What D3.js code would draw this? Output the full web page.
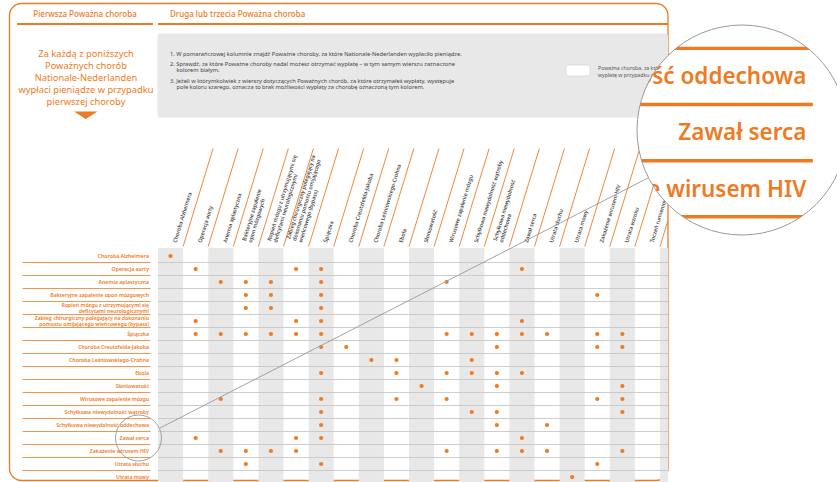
<!DOCTYPE html>
<html>
<head>
<meta charset="utf-8">
<script src="https://cdn.jsdelivr.net/npm/d3@7"></script>
<style>
  body { margin: 0; background: #fff; }
  svg { display: block; font-family: "Noto Sans", sans-serif; }
</style>
</head>
<body>
<svg id="chart" width="837" height="482"></svg>
<script>
// ===== data =====
const columns = [
  'Choroba Alzheimera',
  'Operacja aorty',
  'Anemia aplastyczna',
  'Bakteryjne zapalenie|opon mózgowych',
  'Ropień mózgu z utrzymującymi się|deficytami neurologicznymi',
  'Zabieg chirurgiczny polegający na|dokonaniu pomostu omijającego|wieńcowego (bypass)',
  'Śpiączka',
  'Choroba Creutzfelda-Jakoba',
  'Choroba Leśniowskiego-Crohna',
  'Ebola',
  'Słoniowatość',
  'Wirusowe zapalenie mózgu',
  'Schyłkowa niewydolność wątroby',
  'Schyłkowa niewydolność|oddechowa',
  'Zawał serca',
  'Utrata słuchu',
  'Utrata mowy',
  'Zakażenie wirusem HIV',
  'Utrata wzroku',
  'Toczeń rumieniowaty układowy',
  ''
]

const rows = [
  'Choroba Alzheimera',
  'Operacja aorty',
  'Anemia aplastyczna',
  'Bakteryjne zapalenie opon mózgowych',
  'Ropień mózgu z utrzymującymi się|deficytami neurologicznymi',
  'Zabieg chirurgiczny polegający na dokonaniu|pomostu omijającego wieńcowego (bypass)',
  'Śpiączka',
  'Choroba Creutzfelda-Jakoba',
  'Choroba Leśniowskiego-Crohna',
  'Ebola',
  'Słoniowatość',
  'Wirusowe zapalenie mózgu',
  'Schyłkowa niewydolność wątroby',
  'Schyłkowa niewydolność oddechowa',
  'Zawał serca',
  'Zakażenie wirusem HIV',
  'Utrata słuchu',
  'Utrata mowy'
]

// column numbers (1-based) marked with a dot, one list per row
const hits = [
  [1],
  [2, 6, 7, 15],
  [3, 4, 5, 7, 12],
  [4, 5, 7, 18],
  [4, 5, 7],
  [2, 6, 7, 15],
  [2, 3, 4, 5, 6, 7, 12, 13, 14, 15, 16, 18, 19],
  [7, 8, 14, 18, 19],
  [9, 10, 13],
  [7, 10, 12, 13, 14, 15],
  [11, 14, 19],
  [3, 7, 10, 12, 18, 19],
  [7, 13, 14, 19],
  [7, 14, 16],
  [2, 6, 7, 15],
  [3, 4, 5, 6, 12, 14, 15, 16, 19],
  [4, 7, 18],
  [17]
]

const headers = ['Pierwsza Poważna choroba', 'Druga lub trzecia Poważna choroba']
const intro = ['Za każdą z poniższych', 'Poważnych chorób', 'Nationale-Nederlanden', 'wypłaci pieniądze w przypadku', 'pierwszej choroby']
const steps = [
  ['1. W pomarańczowej kolumnie znajdź Poważne choroby, za które Nationale-Nederlanden wypłaciło pieniądze.'],
  ['2. Sprawdź, za które Poważne choroby nadal możesz otrzymać wypłatę – w tym samym wierszu zaznaczone', 'kolorem białym.'],
  ['3. Jeżeli w którymkolwiek z wierszy dotyczących Poważnych chorób, za które otrzymałeś wypłaty, występuje', 'pole koloru szarego, oznacza to brak możliwości wypłaty za chorobę oznaczoną tym kolorem.']
]
const legendText = ['Poważna choroba, za którą możesz otrzymać', 'wypłatę w przypadku drugiej choroby']
const zoomRow = 'Zawał serca'

// ===== setup =====
const orange = '#ee7a22'
const svg = d3.select('#chart')
const defs = svg.append('defs')

const right = 668
const x = d3.scaleBand()
  .domain(d3.range(columns.length))
  .range([158, 158 + 25.1 * columns.length])
const y = d3.scaleBand()
  .domain(d3.range(rows.length))
  .range([249.5, 249.5 + 13 * rows.length])

defs.append('clipPath').attr('id', 'gridClip')
  .append('rect').attr('x', 157).attr('y', 130).attr('width', right - 157).attr('height', 360)

// frame
svg.append('rect')
  .attr('x', 9.5).attr('y', 3.5)
  .attr('width', right - 9.5).attr('height', 477)
  .attr('rx', 12)
  .attr('fill', 'none')
  .attr('stroke', orange)
  .attr('stroke-width', 1.3)

// header tabs
svg.append('text')
  .attr('x', 85).attr('y', 17)
  .attr('text-anchor', 'middle')
  .attr('font-size', 8).attr('font-weight', 500)
  .attr('fill', orange)
  .text(headers[0])
svg.append('text')
  .attr('x', 170).attr('y', 17)
  .attr('font-size', 8).attr('font-weight', 500)
  .attr('fill', orange)
  .text(headers[1])
svg.append('line').attr('x1', 17).attr('x2', 153).attr('y1', 24).attr('y2', 24)
  .attr('stroke', orange).attr('stroke-width', 2)
svg.append('line').attr('x1', 158).attr('x2', right).attr('y1', 24).attr('y2', 24)
  .attr('stroke', orange).attr('stroke-width', 2)

// intro text + arrow
svg.append('g').selectAll('text')
  .data(intro)
  .join('text')
    .attr('x', 86)
    .attr('y', (d, i) => 57 + i * 12.1)
    .attr('text-anchor', 'middle')
    .attr('font-size', 9.3)
    .attr('fill', orange)
    .text(d => d)
svg.append('path')
  .attr('d', 'M74,111.5 L97.5,111.5 L85.75,119 Z')
  .attr('fill', orange)

// grey instruction box
svg.append('rect')
  .attr('x', 157.5).attr('y', 33.5)
  .attr('width', right - 157.5).attr('height', 84)
  .attr('rx', 3)
  .attr('fill', '#e8e8e8')

let ty = 55.5
steps.forEach(step => {
  step.forEach((line, j) => {
    svg.append('text')
      .attr('x', j ? 176.5 : 170).attr('y', ty)
      .attr('font-size', 5.7)
      .attr('fill', '#444')
      .text(line)
    ty += 6.3
  })
  ty += 4.2
})

// legend
svg.append('rect')
  .attr('x', 566).attr('y', 65)
  .attr('width', 24).attr('height', 11)
  .attr('rx', 2.5)
  .attr('fill', '#fff')
  .attr('stroke', '#cfcfcf')
  .attr('stroke-width', 0.6)
svg.append('g').selectAll('text')
  .data(legendText)
  .join('text')
    .attr('x', 598)
    .attr('y', (d, i) => 69.8 + i * 6.7)
    .attr('font-size', 5.2)
    .attr('fill', '#555')
    .text(d => d)

// ===== grid =====
const grid = svg.append('g').attr('clip-path', 'url(#gridClip)')

grid.selectAll('rect.shade')
  .data(x.domain().filter(i => i % 2 === 0))
  .join('rect')
    .attr('class', 'shade')
    .attr('x', d => x(d))
    .attr('y', 248)
    .attr('width', x.bandwidth())
    .attr('height', 240)
    .attr('fill', '#e8e8e8')

grid.selectAll('line.row')
  .data(y.domain())
  .join('line')
    .attr('class', 'row')
    .attr('x1', 158).attr('x2', right)
    .attr('y1', d => y(d) + y.bandwidth())
    .attr('y2', d => y(d) + y.bandwidth())
    .attr('stroke', '#c2c2c2')
    .attr('stroke-width', 0.8)

// slanted column headers
const angle = -73
const slope = Math.tan((90 + angle) * Math.PI / 180)
grid.selectAll('line.diag')
  .data(x.domain())
  .join('line')
    .attr('class', 'diag')
    .attr('x1', d => x(d) + x.bandwidth())
    .attr('y1', 246.5)
    .attr('x2', d => x(d) + x.bandwidth() + 98 * slope)
    .attr('y2', 148.5)
    .attr('stroke', orange)
    .attr('stroke-width', 0.9)

const colLabel = grid.selectAll('text.col')
  .data(columns)
  .join('text')
    .attr('class', 'col')
    .attr('transform', (d, i) => `translate(${x(i) + 18.5},243) rotate(${angle})`)
    .attr('font-size', 5.4)
    .attr('font-weight', 500)
    .attr('fill', '#333')
colLabel.selectAll('tspan')
  .data(d => d.split('|').map((t, i, a) => ({ t, i, n: a.length })))
  .join('tspan')
    .attr('x', 0)
    .attr('dy', d => d.i === 0 ? -(d.n - 1) * 6.3 : 6.3)
    .text(d => d.t)

// dots
grid.selectAll('g.hits')
  .data(hits)
  .join('g')
    .attr('class', 'hits')
    .selectAll('circle')
    .data((cs, r) => cs.map(c => ({ c: c - 1, r })))
    .join('circle')
      .attr('cx', d => x(d.c) + x.bandwidth() / 2)
      .attr('cy', d => y(d.r) + y.bandwidth() / 2)
      .attr('r', 2.1)
      .attr('fill', orange)

// ===== row labels =====
function drawRowLabels(g, lineRows, textRows) {
  g.selectAll('line.under')
    .data(lineRows)
    .join('line')
      .attr('class', 'under')
      .attr('x1', 22.5).attr('x2', 150.5)
      .attr('y1', d => y(d) + y.bandwidth())
      .attr('y2', d => y(d) + y.bandwidth())
      .attr('stroke', orange)
      .attr('stroke-width', 0.8)
  const t = g.selectAll('text.rowlab')
    .data(textRows)
    .join('text')
      .attr('class', 'rowlab')
      .attr('text-anchor', 'end')
      .attr('font-size', 5.2)
      .attr('font-weight', 600)
      .attr('fill', orange)
      .attr('transform', i => `translate(149,${y(i) + y.bandwidth() / 2 + 1.8})`)
  t.selectAll('tspan')
    .data(i => rows[i].split('|').map((s, j, a) => ({ s, j, n: a.length })))
    .join('tspan')
      .attr('x', 0)
      .attr('dy', d => d.j === 0 ? -(d.n - 1) * 3 : 6)
      .text(d => d.s)
}
drawRowLabels(svg.append('g'), y.domain(), y.domain())

// ===== magnifier =====
const zi = rows.indexOf(zoomRow)
const small = { x: 138.5, y: y(zi) + y.bandwidth() / 2, r: 23 }
const big = { x: 742, y: 130, r: 105 }
const k = 4.32

svg.append('circle')
  .attr('cx', small.x).attr('cy', small.y).attr('r', small.r)
  .attr('fill', 'none')
  .attr('stroke', '#999')
  .attr('stroke-width', 0.9)

svg.append('line')
  .attr('x1', 160).attr('y1', 428)
  .attr('x2', 648).attr('y2', 178)
  .attr('stroke', '#999')
  .attr('stroke-width', 0.9)

defs.append('clipPath').attr('id', 'lensClip')
  .append('circle').attr('cx', big.x).attr('cy', big.y).attr('r', big.r)

const lens = svg.append('g').attr('clip-path', 'url(#lensClip)')
lens.append('circle')
  .attr('cx', big.x).attr('cy', big.y).attr('r', big.r)
  .attr('fill', '#fff')
drawRowLabels(
  lens.append('g')
    .attr('transform', `translate(761,132.6) scale(${k}) translate(${-small.x},${-small.y})`),
  [zi - 2, zi - 1, zi, zi + 1],
  [zi - 1, zi, zi + 1]
)

svg.append('circle')
  .attr('cx', big.x).attr('cy', big.y).attr('r', big.r)
  .attr('fill', 'none')
  .attr('stroke', '#999')
  .attr('stroke-width', 1)
</script>
</body>
</html>
